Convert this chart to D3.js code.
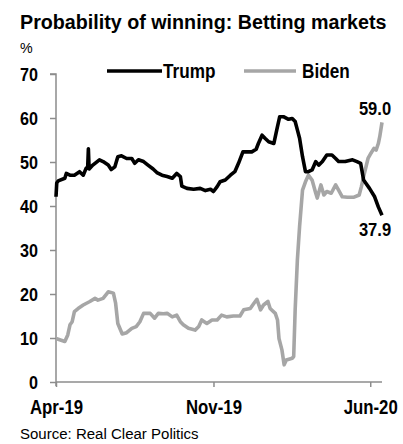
<!DOCTYPE html>
<html>
<head>
<meta charset="utf-8">
<script src="https://cdn.jsdelivr.net/npm/d3@7"></script>
<style>
  html, body { margin: 0; padding: 0; background: #fff; }
  svg { display: block; }
  text { font-family: "Liberation Sans", Arial, sans-serif; }
</style>
</head>
<body>
<svg id="chart" width="403" height="444"></svg>
<script>
// Betting-market probability of winning (%), Real Clear Politics
const trumpDates = ["2019-04-01","2019-04-02","2019-04-04","2019-04-13","2019-04-15","2019-04-20","2019-04-26","2019-05-03","2019-05-08","2019-05-12","2019-05-14","2019-05-15","2019-05-16","2019-05-17","2019-05-21","2019-05-30","2019-06-04","2019-06-11","2019-06-15","2019-06-20","2019-06-24","2019-06-29","2019-07-06","2019-07-13","2019-07-17","2019-07-22","2019-07-29","2019-08-04","2019-08-11","2019-08-16","2019-08-23","2019-08-30","2019-09-06","2019-09-12","2019-09-17","2019-09-19","2019-09-26","2019-10-05","2019-10-14","2019-10-21","2019-10-28","2019-11-01","2019-11-06","2019-11-10","2019-11-17","2019-11-24","2019-11-30","2019-12-05","2019-12-11","2019-12-16","2019-12-23","2019-12-29","2020-01-01","2020-01-06","2020-01-10","2020-01-15","2020-01-22","2020-01-26","2020-01-30","2020-02-04","2020-02-11","2020-02-16","2020-02-20","2020-02-23","2020-02-26","2020-03-01","2020-03-05","2020-03-09","2020-03-14","2020-03-19","2020-03-23","2020-03-28","2020-04-03","2020-04-10","2020-04-15","2020-04-19","2020-04-28","2020-05-08","2020-05-14","2020-05-19","2020-05-23","2020-05-31","2020-06-07","2020-06-12","2020-06-17"];
const trumpValues = [42.1,45.2,45.7,46.3,47.4,47.0,47.0,47.8,47.0,48.6,48.6,53.0,48.4,48.6,49.3,50.5,50.1,49.3,48.3,48.9,51.2,51.4,50.8,50.8,49.7,50.5,50.1,49.3,48.4,47.6,47.0,46.7,46.3,47.4,46.7,44.5,44.0,43.8,44.0,43.5,43.8,43.3,44.4,45.5,45.9,47.0,47.8,49.7,52.3,52.3,52.3,52.9,54.2,56.1,55.4,54.6,54.2,57.3,60.3,60.3,59.7,59.9,59.2,57.3,55.4,51.2,47.8,47.8,48.2,50.1,49.3,50.1,51.6,51.6,50.8,50.1,50.1,50.5,50.1,49.7,45.9,44.0,42.1,39.8,37.9];

const bidenDates = ["2019-04-01","2019-04-08","2019-04-13","2019-04-17","2019-04-20","2019-04-23","2019-04-26","2019-05-01","2019-05-08","2019-05-17","2019-05-24","2019-05-28","2019-06-04","2019-06-11","2019-06-18","2019-06-21","2019-06-24","2019-06-30","2019-07-06","2019-07-13","2019-07-19","2019-07-24","2019-07-29","2019-08-07","2019-08-13","2019-08-18","2019-08-25","2019-08-30","2019-09-06","2019-09-12","2019-09-17","2019-09-21","2019-09-28","2019-10-07","2019-10-12","2019-10-16","2019-10-23","2019-10-30","2019-11-06","2019-11-12","2019-11-19","2019-11-28","2019-12-07","2019-12-12","2019-12-21","2019-12-26","2019-12-30","2020-01-04","2020-01-08","2020-01-14","2020-01-17","2020-01-24","2020-01-27","2020-01-29","2020-02-02","2020-02-05","2020-02-08","2020-02-16","2020-02-18","2020-02-20","2020-02-23","2020-02-26","2020-03-01","2020-03-05","2020-03-09","2020-03-14","2020-03-19","2020-03-21","2020-03-26","2020-03-30","2020-04-03","2020-04-09","2020-04-15","2020-04-19","2020-04-24","2020-05-01","2020-05-10","2020-05-17","2020-05-20","2020-05-23","2020-05-29","2020-06-02","2020-06-06","2020-06-09","2020-06-12","2020-06-14","2020-06-17"];
const bidenValues = [9.9,9.5,9.2,10.7,13.0,13.7,16.0,16.7,17.5,18.3,19.0,18.6,19.0,20.5,20.2,17.9,13.3,10.9,11.2,12.2,12.6,13.7,15.6,15.6,14.5,15.6,15.5,15.6,14.8,15.2,13.7,13.0,12.2,11.8,12.6,14.1,13.3,14.1,14.1,15.2,14.8,15.0,15.0,16.4,16.7,17.9,18.8,16.4,17.5,18.3,16.7,15.6,14.1,9.9,7.3,3.9,5.0,5.4,5.8,16.4,27.7,35.3,43.6,45.5,47.0,45.9,42.9,41.8,44.8,42.5,43.3,42.9,44.8,43.6,42.1,42.0,42.0,42.5,44.4,46.7,50.8,52.0,53.1,52.7,54.2,55.8,59.0];

const yTicks = [0, 10, 20, 30, 40, 50, 60, 70];
const xTickDates = ["2019-04-01", "2019-11-01", "2020-06-01"];
const xTickLabels = ["Apr-19", "Nov-19", "Jun-20"];
const seriesNames = ["Trump", "Biden"];
const seriesColors = ["#000000", "#a6a6a6"];
const titleText = "Probability of winning: Betting markets";
const unitText = "%";
const sourceText = "Source: Real Clear Politics";

const parse = d3.timeParse("%Y-%m-%d");
const svg = d3.select("#chart");

const x = d3.scaleTime()
  .domain([parse("2019-04-01"), parse("2020-06-17")])
  .range([56, 382]);
const y = d3.scaleLinear().domain([0, 70]).range([382, 74]);

const axisColor = "#8c8c8c";

// Condensed text: draw at (tx, ty) squeezed horizontally by factor sx
function narrowText(tx, ty, str, size, sx, opts = {}) {
  return svg.append("text")
    .attr("transform", `translate(${tx},${ty}) scale(${sx},1)`)
    .attr("font-size", size)
    .attr("font-weight", opts.bold ? "bold" : null)
    .attr("text-anchor", opts.anchor || "start")
    .attr("fill", opts.fill || "#000")
    .text(str);
}

// Title and unit
narrowText(20, 29, titleText, 20, 0.985, { bold: true });
narrowText(20, 53, unitText, 15, 0.95);

// Y axis
const yScaleX = 0.85;
const yAxis = svg.append("g").attr("transform", "translate(56,0)")
  .call(d3.axisLeft(y).tickValues(yTicks).tickSize(6));
yAxis.select(".domain").attr("stroke", axisColor).attr("stroke-width", 1.5)
  .attr("d", `M-6,${y(70)}H0V${y(0) + 4}`);
yAxis.selectAll(".tick line").attr("stroke", axisColor).attr("stroke-width", 1.5);
yAxis.selectAll(".tick text")
  .attr("font-size", 19).attr("font-weight", "bold").attr("fill", "#000")
  .attr("font-family", null)
  .attr("x", -18 / yScaleX).attr("transform", `scale(${yScaleX},1)`);

// X axis
const xScaleX = 0.84;
const xAxis = svg.append("g").attr("transform", `translate(0,${y(0)})`)
  .call(d3.axisBottom(x).tickValues(xTickDates.map(parse))
    .tickFormat((d, i) => xTickLabels[i]).tickSize(5).tickPadding(14));
xAxis.select(".domain").attr("stroke", axisColor).attr("stroke-width", 1.5)
  .attr("d", `M56,0H382`);
xAxis.selectAll(".tick line").attr("stroke", axisColor).attr("stroke-width", 1.5);
xAxis.selectAll(".tick text")
  .attr("font-size", 20).attr("font-weight", "bold").attr("fill", "#000")
  .attr("font-family", null).attr("y", 18).attr("dy", "0.71em")
  .attr("transform", `scale(${xScaleX},1)`);

// Lines
const line = d3.line().x(d => x(d.date)).y(d => y(d.value));
const series = [
  { name: seriesNames[0], color: seriesColors[0],
    data: trumpDates.map((d, i) => ({ date: parse(d), value: trumpValues[i] })) },
  { name: seriesNames[1], color: seriesColors[1],
    data: bidenDates.map((d, i) => ({ date: parse(d), value: bidenValues[i] })) }
];
// Biden drawn first so the Trump line sits on top where they cross
[series[1], series[0]].forEach(s => {
  svg.append("path").datum(s.data)
    .attr("fill", "none").attr("stroke", s.color)
    .attr("stroke-width", 3.6).attr("stroke-linejoin", "round")
    .attr("d", line);
});

// End-value labels
const lastT = series[0].data[series[0].data.length - 1];
const lastB = series[1].data[series[1].data.length - 1];
narrowText(x(lastB.date) - 7, y(lastB.value) - 7, lastB.value.toFixed(1), 18, 0.92,
  { bold: true, anchor: "middle" });
narrowText(x(lastT.date) - 7, y(lastT.value) + 20.5, lastT.value.toFixed(1), 18, 0.92,
  { bold: true, anchor: "middle" });

// Legend
const legend = [
  { x1: 107, x2: 162, tx: 163 },
  { x1: 244, x2: 296, tx: 302 }
];
series.forEach((s, i) => {
  svg.append("line").attr("x1", legend[i].x1).attr("x2", legend[i].x2)
    .attr("y1", 71).attr("y2", 71).attr("stroke", s.color).attr("stroke-width", 3.6);
  narrowText(legend[i].tx, 78, s.name, 19.5, 0.88, { bold: true });
});

// Source
narrowText(20, 439, sourceText, 15.5, 0.97);
</script>
</body>
</html>
